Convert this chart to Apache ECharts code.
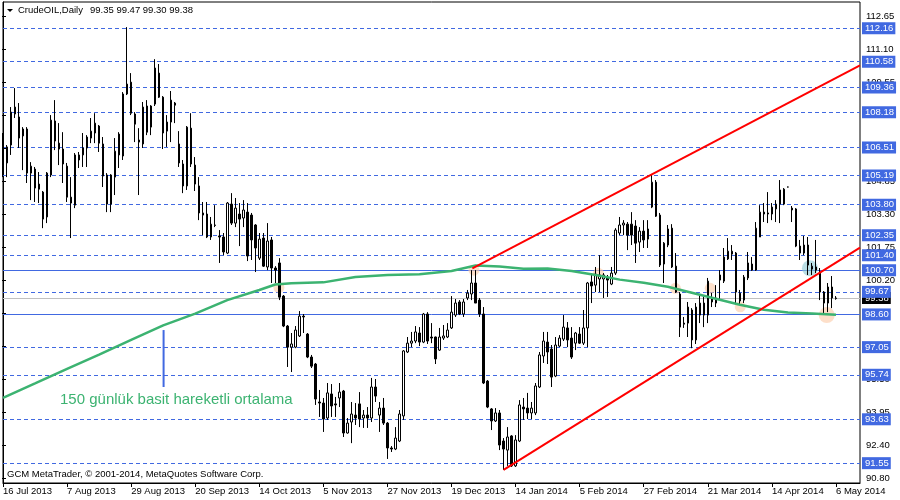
<!DOCTYPE html>
<html><head><meta charset="utf-8">
<script src="https://cdn.jsdelivr.net/npm/echarts@6/dist/echarts.min.js"></script>
<style>html,body{margin:0;padding:0;background:#fff}#c{width:900px;height:500px}</style>
</head><body><div id="c"></div>
<script>
// ---------- data ----------
const xTickLabels = ['16 Jul 2013','7 Aug 2013','29 Aug 2013','20 Sep 2013','14 Oct 2013','5 Nov 2013','27 Nov 2013','19 Dec 2013','14 Jan 2014','5 Feb 2014','27 Feb 2014','21 Mar 2014','14 Apr 2014','6 May 2014'];
const yTickLabels = ['90.80','92.40','93.95','95.50','97.05','98.60','100.20','101.75','103.30','104.85','106.40','108.00','109.55','111.10','112.65'];
const headerSymbol = 'CrudeOIL,Daily';
const headerOHLC = '99.35 99.47 99.30 99.38';
const footerText = 'GCM MetaTrader, \u00A9 2001-2014, MetaQuotes Software Corp.';
const noteText = '150 günlük basit hareketli ortalama';

const openP = [106.54,105.78,106.63,108.10,107.96,107.06,107.39,105.30,105.49,104.78,104.40,103.22,105.21,107.77,106.72,106.44,105.63,104.16,103.78,105.92,106.16,106.49,106.96,107.20,107.53,106.68,105.21,103.83,105.11,107.15,106.11,109.05,109.61,108.10,106.87,106.68,108.48,107.48,108.57,110.04,108.90,107.29,107.72,108.62,106.68,105.73,104.69,107.43,105.68,104.69,103.41,103.36,102.27,102.84,102.32,102.27,101.51,103.83,102.93,103.36,103.17,103.45,103.31,102.84,101.27,102.22,100.85,102.13,100.80,101.04,99.47,98.05,97.05,97.05,97.58,98.52,97.67,96.58,96.25,94.45,94.40,93.69,94.83,94.36,94.64,94.97,92.98,93.50,93.83,94.36,93.69,93.83,93.69,95.16,93.83,94.16,93.45,92.27,92.22,92.60,93.79,96.82,97.24,97.34,97.72,97.29,98.62,97.53,97.53,96.91,97.48,97.53,97.96,98.57,99.19,98.62,99.38,99.57,100.09,99.28,98.62,95.44,94.12,93.55,93.93,92.60,92.17,92.84,91.42,92.60,94.21,94.16,93.93,93.93,95.16,96.63,97.29,96.96,95.68,97.10,97.43,97.96,97.48,97.24,97.67,97.24,97.96,100.14,99.99,100.28,100.28,100.37,100.04,100.56,102.46,102.84,102.88,102.88,102.79,102.03,102.55,102.17,103.69,104.87,103.31,100.99,101.89,102.69,100.89,99.57,98.19,98.19,98.81,97.39,98.57,99.14,98.57,99.38,99.14,100.23,100.18,101.23,101.46,101.51,99.61,99.28,100.33,100.70,100.70,102.27,103.45,103.41,103.36,103.60,103.83,103.83,104.64,103.64,103.60,101.84,101.51,101.89,100.75,100.85,100.61,99.66,99.14,99.90,99.35];
const closeP = [105.68,106.54,108.19,108.43,106.96,107.39,105.30,105.63,104.59,104.54,103.12,105.30,107.81,106.82,106.44,105.73,104.16,103.88,106.16,106.16,106.49,107.01,107.29,107.67,106.72,105.16,103.83,105.21,106.34,106.16,109.05,109.52,108.14,107.62,106.77,108.43,107.24,108.48,110.28,108.90,107.20,107.72,108.76,108.52,105.78,104.69,107.48,105.73,104.78,103.41,103.31,102.27,102.88,102.82,102.27,101.56,103.88,102.93,103.64,103.12,103.55,101.37,102.13,101.75,102.17,100.89,102.08,100.80,100.70,99.42,98.05,97.05,97.20,97.86,98.52,98.48,96.58,96.15,94.59,94.40,93.64,94.88,94.26,94.31,94.92,92.98,93.45,93.88,93.69,93.64,93.83,93.69,95.16,94.73,94.16,93.45,92.27,92.22,92.74,93.88,96.87,97.24,97.34,97.77,97.29,98.62,97.34,97.48,96.49,97.53,97.58,97.86,98.71,99.14,98.62,99.19,99.61,100.09,99.14,98.62,95.35,94.21,93.55,93.93,92.41,92.22,92.79,91.42,92.65,94.31,94.12,93.93,94.16,95.21,96.68,97.34,96.82,95.63,97.15,97.48,98.00,97.39,96.58,97.72,97.24,97.96,100.09,99.95,100.51,100.47,100.47,100.23,100.56,102.60,102.84,102.93,102.36,102.36,101.98,102.55,102.13,102.65,104.87,103.26,100.94,101.98,102.65,100.85,99.66,98.00,98.14,98.95,97.39,98.95,99.14,98.57,100.18,99.19,99.38,100.47,101.32,101.60,101.60,99.66,99.24,100.37,101.04,100.99,102.69,103.45,103.36,103.36,103.69,103.83,104.50,104.54,104.64,103.55,101.84,101.51,101.89,100.94,100.89,100.70,99.66,99.14,99.90,99.38,99.38];
const lowP = [105.11,105.11,106.16,107.91,106.49,105.44,104.83,104.02,103.93,103.88,102.69,102.93,105.11,106.39,105.68,104.83,103.93,102.22,103.64,105.54,105.59,105.59,106.72,106.72,106.30,104.64,103.45,103.45,104.26,105.54,105.92,109.00,108.05,106.77,104.26,106.49,107.10,107.10,108.48,108.86,106.44,106.54,106.77,107.67,105.59,104.35,104.50,105.59,104.45,103.07,102.36,102.22,102.13,102.74,101.04,101.41,101.46,102.84,102.74,101.84,102.74,101.13,101.18,100.61,101.18,100.85,100.70,100.09,100.09,99.28,98.00,96.11,95.87,97.00,97.53,97.72,96.53,96.06,94.31,93.74,93.03,93.60,93.74,93.74,94.21,92.79,92.95,92.50,93.36,93.26,93.22,93.22,93.50,94.45,93.03,93.36,91.75,92.08,92.17,92.55,93.60,96.77,97.05,97.24,97.10,97.24,97.20,97.24,96.25,96.87,97.39,97.48,97.91,98.48,98.57,98.48,99.28,99.28,99.14,98.48,95.30,94.16,93.12,93.50,92.17,91.23,91.42,91.37,91.37,92.55,93.60,93.64,93.64,93.83,95.11,96.30,96.25,95.16,95.63,97.05,97.34,97.05,96.49,96.91,97.20,97.15,97.05,99.14,99.66,99.66,99.38,99.43,99.99,100.47,102.36,102.36,101.65,101.89,101.04,101.56,101.75,101.75,103.64,103.22,100.85,100.09,101.79,100.80,99.62,97.53,97.96,97.53,97.00,97.20,98.19,98.00,98.19,98.95,98.95,99.28,100.09,101.18,101.18,99.14,99.05,99.14,100.23,100.66,100.66,102.27,102.98,102.93,103.07,102.98,102.93,103.78,104.62,102.98,101.79,101.18,101.41,100.47,100.47,100.56,99.28,98.67,98.71,98.90,99.30];
const highP = [107.20,106.63,108.43,109.33,108.62,107.48,107.48,105.82,105.59,105.35,104.45,105.35,108.05,108.76,107.67,107.24,105.78,105.11,106.25,106.30,107.20,107.10,107.91,108.14,107.58,107.01,105.30,105.25,106.96,107.24,109.14,112.22,110.04,108.19,107.43,108.67,108.76,108.52,110.70,110.47,108.95,108.05,109.19,108.67,107.29,105.92,107.53,108.14,106.06,105.11,103.93,103.93,103.22,103.78,102.60,102.46,103.93,104.35,104.12,103.88,104.02,103.88,103.41,102.88,102.46,102.46,102.93,102.27,100.89,101.27,99.52,98.10,97.72,98.05,98.76,98.62,97.72,96.68,96.30,95.02,94.64,95.35,95.30,94.69,95.35,95.02,93.69,94.45,94.40,94.92,94.07,94.21,95.59,95.54,94.45,94.64,93.50,92.36,93.26,94.07,96.91,97.53,97.77,98.05,98.00,98.67,98.71,98.19,97.55,97.96,98.10,98.19,99.47,99.33,99.28,99.33,99.76,100.70,100.70,99.38,98.95,95.49,94.16,94.16,94.07,92.74,93.26,92.88,92.88,94.54,94.64,94.88,94.45,95.35,96.82,97.77,97.77,97.15,97.53,97.62,98.57,98.24,98.00,97.77,98.00,98.81,100.14,100.56,100.85,101.41,100.56,100.47,100.85,102.69,103.22,103.07,102.98,103.45,103.07,102.74,103.07,103.07,105.21,104.97,103.41,102.03,102.84,102.88,101.51,99.66,98.48,99.19,98.90,99.14,99.52,99.43,100.33,99.62,99.99,100.70,101.75,102.22,101.89,101.56,99.76,100.47,101.56,101.32,102.98,103.78,103.88,104.40,103.88,104.02,104.97,104.59,104.66,103.74,103.64,102.13,102.32,102.27,101.04,102.13,100.80,99.71,100.09,100.42,99.47];

// 150-day simple moving average, read at sampled bars: [bar index, price]
const maPoints = [[0,94.65],[8,95.33],[16,96.02],[24,96.70],[32,97.39],[40,98.08],[48,98.64],[56,99.28],[64,99.76],[68,100.02],[72,100.08],[80,100.12],[88,100.37],[96,100.47],[104,100.51],[112,100.66],[118,100.92],[124,100.87],[130,100.77],[136,100.78],[142,100.66],[148,100.47],[154,100.25],[160,100.10],[166,99.91],[172,99.63],[178,99.34],[184,99.06],[190,98.82],[196,98.69],[202,98.64],[208,98.59]];
// trend lines: [bar index, price]
const upperTrend = [[117.2,100.78],[214,110.41]];
const lowerTrend = [[125,91.23],[214,101.77]];
// horizontal levels
const dashedLevels = [112.16,110.58,109.36,108.18,106.51,105.19,103.80,102.35,101.40,99.67,97.05,95.74,93.63,91.55];
const solidLevels = [100.70,98.60];
const lastPrice = 99.38;
// highlight circles [bar index, price]
const peachPoints = [[68.9,99.88],[117.6,100.70],[148.7,100.55],[167.9,99.84],[176.6,99.84],[184.1,98.96]];
const peachBig = [[205.7,98.57]];
const bluePoint = [[201.5,100.79]];
// annotation pointer [bar index, price]
const notePointer = [[40.1,97.86],[40.1,95.16]];

// ---------- chart ----------
const FONT = "'Liberation Sans',Arial,sans-serif";
const FS = 9.5;
const slotCount = 215; // 209 bars + chart shift
const categories = Array.from({length: slotCount}, (_, i) => String(i));
const candles = openP.map((o, i) => [o, closeP[i], lowP[i], highP[i]]);
const isLabelIdx = (idx) => idx % 16 === 0 && (idx / 16) < xTickLabels.length;

const BLUE = '#4169E1';
function level(v, dashed) {
  return {
    yAxis: v,
    lineStyle: {color: BLUE, width: 1, type: dashed ? [4, 3] : 'solid'},
    label: {show: true, position: 'end', formatter: v.toFixed(2), backgroundColor: BLUE,
      color: '#fff', padding: [1, 2, 0, 3], distance: 2, fontSize: FS, lineHeight: 11, fontFamily: FONT}
  };
}

const chart = echarts.init(document.getElementById('c'), null, {renderer: 'canvas'});
chart.setOption({
  animation: false,
  backgroundColor: '#fff',
  textStyle: {fontFamily: FONT},
  grid: [
    {left: 2, right: 40, top: 2, bottom: 17, show: true, borderColor: '#000', borderWidth: 1, backgroundColor: 'transparent'},
    {left: 2, right: 40, top: 16, bottom: 22, show: false}
  ],
  xAxis: [
    {type: 'category', gridIndex: 0, data: categories, boundaryGap: false,
      axisLine: {show: true, lineStyle: {color: '#000', width: 1}},
      axisTick: {show: true, length: 4, interval: (idx) => isLabelIdx(idx), lineStyle: {color: '#000'}},
      axisLabel: {show: true, interval: (idx) => isLabelIdx(idx), align: 'left', margin: 3,
        formatter: (v, idx) => isLabelIdx(idx) ? xTickLabels[idx / 16] : '', color: '#000', fontSize: FS, fontFamily: FONT},
      splitLine: {show: false}},
    {type: 'value', gridIndex: 0, min: 0, max: slotCount - 1, show: false},
    {type: 'value', gridIndex: 1, min: 0, max: 1, show: false}
  ],
  yAxis: [
    {type: 'value', gridIndex: 0, position: 'right', min: 90.61, max: 113.41,
      axisLine: {show: true, lineStyle: {color: '#000'}}, axisTick: {show: false}, axisLabel: {show: false}, splitLine: {show: false}},
    {type: 'value', gridIndex: 1, position: 'right', min: 0, max: yTickLabels.length - 1, interval: 1,
      axisLine: {show: false}, axisTick: {show: true, length: 4, lineStyle: {color: '#000'}},
      axisLabel: {show: true, margin: 6, color: '#000', fontSize: FS, fontFamily: FONT,
        formatter: (v) => yTickLabels[Math.round(v)]},
      splitLine: {show: false}}
  ],
  series: [
    {type: 'line', name: 'price', xAxisIndex: 1, yAxisIndex: 0, data: [[0, lastPrice]], symbol: 'none', silent: true,
      lineStyle: {opacity: 0}, z: 1,
      markLine: {symbol: ['none', 'none'], silent: true, z: 1, animation: false,
        data: [{yAxis: lastPrice, lineStyle: {color: '#C0C0C0', width: 1, type: 'solid'},
          label: {show: true, position: 'end', formatter: lastPrice.toFixed(2), backgroundColor: '#000', color: '#fff',
            padding: [1, 2, 0, 3], distance: 2, fontSize: FS, lineHeight: 11, fontFamily: FONT}}]}},
    {type: 'line', name: 'levels', xAxisIndex: 1, yAxisIndex: 0, data: [[0, lastPrice]], symbol: 'none', silent: true,
      lineStyle: {opacity: 0}, z: 2,
      markLine: {symbol: ['none', 'none'], silent: true, z: 2, animation: false,
        data: dashedLevels.map(v => level(v, true)).concat(solidLevels.map(v => level(v, false)))}},
    {type: 'scatter', name: 'peach', xAxisIndex: 1, yAxisIndex: 0, data: peachPoints, symbolSize: 11, silent: true, z: 2.5,
      itemStyle: {color: 'rgba(252,205,170,0.8)'}},
    {type: 'scatter', name: 'peachBig', xAxisIndex: 1, yAxisIndex: 0, data: peachBig, symbolSize: 16, silent: true, z: 2.5,
      itemStyle: {color: 'rgba(252,205,170,0.8)'}},
    {type: 'scatter', name: 'blue', xAxisIndex: 1, yAxisIndex: 0, data: bluePoint, symbolSize: 16, silent: true, z: 2.5,
      itemStyle: {color: 'rgba(140,200,210,0.75)'}},
    {type: 'candlestick', name: 'CrudeOIL', xAxisIndex: 0, yAxisIndex: 0, data: candles, barWidth: 2, z: 3,
      itemStyle: {color: '#fff', color0: '#000', borderColor: '#000', borderColor0: '#000', borderColorDoji: '#000', borderWidth: 1}},
    {type: 'line', name: 'SMA150', xAxisIndex: 1, yAxisIndex: 0, data: maPoints, symbol: 'none', z: 4,
      lineStyle: {color: '#3CB371', width: 2.5}},
    {type: 'line', name: 'upper', xAxisIndex: 1, yAxisIndex: 0, data: upperTrend, symbol: 'none', z: 5,
      lineStyle: {color: '#FF0000', width: 2}},
    {type: 'line', name: 'lower', xAxisIndex: 1, yAxisIndex: 0, data: lowerTrend, symbol: 'none', z: 5,
      lineStyle: {color: '#FF0000', width: 2}},
    {type: 'line', name: 'note', xAxisIndex: 1, yAxisIndex: 0, data: notePointer, symbol: 'none', z: 5,
      lineStyle: {color: BLUE, width: 2}}
  ],
  graphic: [
    {type: 'polygon', shape: {points: [[7, 9], [13, 9], [10, 12]]}, style: {fill: '#000'}},
    {type: 'text', left: 18, top: 5, style: {text: headerSymbol, fill: '#000', font: FS + 'px ' + FONT}},
    {type: 'text', left: 90, top: 5, style: {text: headerOHLC, fill: '#000', font: FS + 'px ' + FONT}},
    {type: 'text', left: 7, top: 469, style: {text: footerText, fill: '#000', font: FS + 'px ' + FONT}},
    {type: 'text', left: 60, top: 392, style: {text: noteText, fill: '#3CB371', font: '15px ' + FONT}}
  ]
});
</script></body></html>
